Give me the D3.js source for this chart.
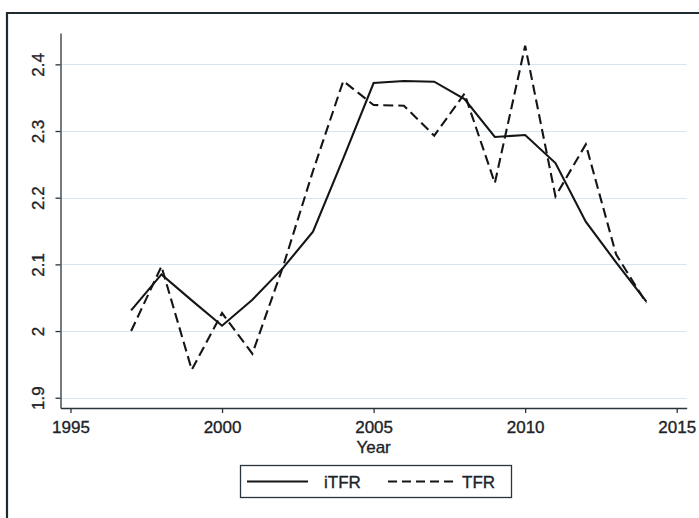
<!DOCTYPE html>
<html>
<head>
<meta charset="utf-8">
<script src="https://cdn.jsdelivr.net/npm/d3@7"></script>
<style>
  html, body { margin: 0; padding: 0; background: #ffffff; }
  svg { display: block; }
  text { font-family: "Liberation Sans", Arial, sans-serif; fill: #1c2328; stroke: #1c2328; stroke-width: 0.35px; }
</style>
</head>
<body>
<svg id="chart" width="699" height="518"></svg>
<script>
// Fertility series by year
const years = [1997, 1998, 1999, 2000, 2001, 2002, 2003, 2004, 2005,
               2006, 2007, 2008, 2009, 2010, 2011, 2012, 2013, 2014];
const iTFR = [2.031, 2.085, 2.046, 2.008, 2.047, 2.094, 2.149, 2.259, 2.372,
              2.375, 2.374, 2.348, 2.291, 2.294, 2.252, 2.164, 2.103, 2.044];
const TFR  = [2.000, 2.097, 1.942, 2.027, 1.966, 2.095, 2.240, 2.375, 2.339,
              2.338, 2.293, 2.356, 2.222, 2.428, 2.202, 2.280, 2.115, 2.042];

const xTicks = [1995, 2000, 2005, 2010, 2015];
const yTicks = [1.9, 2.0, 2.1, 2.2, 2.3, 2.4];
const xTitle = "Year";
const seriesNames = ["iTFR", "TFR"];

const FONT = "17px";
const svg = d3.select("#chart");

// Outer graph frame
svg.append("path")
  .attr("d", "M7,530 L7,13 L700,13")
  .attr("fill", "none")
  .attr("stroke", "#1f2a30")
  .attr("stroke-width", 2.2);

const x = d3.scaleLinear().domain([1994.67, 2015.33]).range([60.5, 686.7]);
const y = d3.scaleLinear().domain([1.8846, 2.447]).range([408, 33]);

// Horizontal grid lines
svg.append("g")
  .selectAll("line")
  .data(yTicks)
  .join("line")
  .attr("x1", x.range()[0] + 1)
  .attr("x2", x.range()[1])
  .attr("y1", d => Math.round(y(d)) + 0.5)
  .attr("y2", d => Math.round(y(d)) + 0.5)
  .attr("stroke", "#d7e5ee")
  .attr("stroke-width", 1.2);

// Axes
const xAxis = svg.append("g")
  .attr("transform", "translate(0,408)")
  .call(d3.axisBottom(x).tickValues(xTicks).tickSize(5).tickSizeOuter(0).tickFormat(d3.format("d")));
xAxis.selectAll("text")
  .attr("y", 25)
  .attr("dy", null)
  .style("font-size", FONT);

const yAxis = svg.append("g")
  .attr("transform", "translate(60.5,0)")
  .call(d3.axisLeft(y).tickValues(yTicks).tickSize(5).tickSizeOuter(0).tickFormat(d3.format("")));
yAxis.selectAll("text")
  .attr("x", null).attr("dy", null)
  .attr("text-anchor", "middle")
  .attr("transform", "translate(-17,0) rotate(-90)")
  .style("font-size", FONT);

svg.selectAll(".domain, .tick line")
  .attr("stroke", "#2a353b")
  .attr("stroke-width", 1.3);
svg.selectAll(".tick text")
  .style("font-family", "'Liberation Sans', Arial, sans-serif")
  .attr("fill", "#1c2328")
  .attr("stroke", "#1c2328")
  .attr("stroke-width", 0.35);

// Axis title
svg.append("text")
  .attr("x", (x.range()[0] + x.range()[1]) / 2)
  .attr("y", 453)
  .attr("text-anchor", "middle")
  .style("font-size", FONT)
  .text(xTitle);

// Series lines
const line = vals => d3.line()
  .x((d, i) => x(years[i]))
  .y(d => y(d))(vals);

svg.append("path")
  .attr("d", line(TFR))
  .attr("fill", "none")
  .attr("stroke", "#151515")
  .attr("stroke-width", 2.1)
  .attr("stroke-dasharray", "10,5");

svg.append("path")
  .attr("d", line(iTFR))
  .attr("fill", "none")
  .attr("stroke", "#151515")
  .attr("stroke-width", 2.1);

// Legend
const lg = svg.append("g");
lg.append("rect")
  .attr("x", 240.5).attr("y", 465.5)
  .attr("width", 271).attr("height", 32)
  .attr("fill", "#ffffff")
  .attr("stroke", "#2a353b")
  .attr("stroke-width", 1.3);
lg.append("line")
  .attr("x1", 247).attr("x2", 308).attr("y1", 481.5).attr("y2", 481.5)
  .attr("stroke", "#151515").attr("stroke-width", 2.1);
lg.append("text")
  .attr("x", 324).attr("y", 488)
  .style("font-size", FONT)
  .text(seriesNames[0]);
lg.append("line")
  .attr("x1", 388).attr("x2", 455).attr("y1", 481.5).attr("y2", 481.5)
  .attr("stroke", "#151515").attr("stroke-width", 2.1)
  .attr("stroke-dasharray", "9,5");
lg.append("text")
  .attr("x", 462).attr("y", 488)
  .style("font-size", FONT)
  .text(seriesNames[1]);
</script>
</body>
</html>
